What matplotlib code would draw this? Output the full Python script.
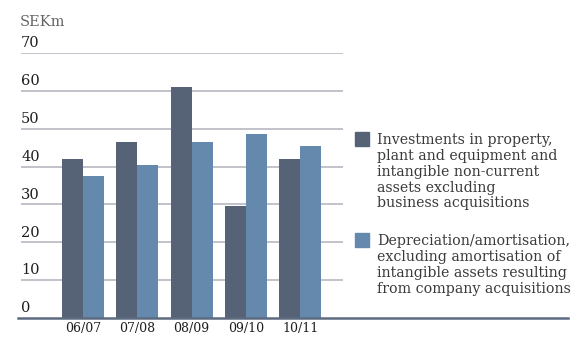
import numpy as np
import matplotlib.pyplot as plt
from matplotlib.patches import Rectangle

plt.rcParams['font.family'] = ['DejaVu Serif']

# data
years = ['06/07', '07/08', '08/09', '09/10', '10/11']
investments = [42, 46.5, 61, 29.5, 42]
depreciation = [37.5, 40.5, 46.5, 48.5, 45.5]
yticks = [0, 10, 20, 30, 40, 50, 60, 70]
labels = ['Investments in property,\nplant and equipment and\nintangible non-current\nassets excluding\nbusiness acquisitions',
          'Depreciation/amortisation,\nexcluding amortisation of\nintangible assets resulting\nfrom company acquisitions']

c_dark = '#566276'
c_light = '#6489ad'

W, H = 578, 338
fig = plt.figure(figsize=(W / 100, H / 100), dpi=100)
ax = fig.add_axes([21 / W, (H - 318) / H, 322 / W, (318 - 53) / H])

x = np.arange(len(years))
w = 0.387
ax.bar(x - w / 2, investments, w, color=c_dark, zorder=2)
ax.bar(x + w / 2, depreciation, w, color=c_light, zorder=2)

ax.set_xlim(-1.143, 4.79)
ax.set_ylim(0, 70)

# gridlines with labels sitting on top of them
for v in yticks[1:]:
    ax.axhline(v, color='#c2c2ca', lw=1.4, zorder=1)
for v in yticks:
    ax.text(0.0, v + 1.5, str(v), transform=ax.get_yaxis_transform(),
            fontsize=10.5, color='#1e1e1e', ha='left', va='baseline')

# baseline running out under the legend
ax.axhline(0, xmin=-0.01, xmax=(568 - 21) / 322, color='#5d6b80', lw=1.8,
           clip_on=False, zorder=3)

ax.set_xticks(x)
ax.set_xticklabels(years, fontsize=9, color='#1e1e1e')
ax.tick_params(axis='x', length=0, pad=3)
ax.set_yticks([])
for s in ax.spines.values():
    s.set_visible(False)

fig.text(20 / W, 1 - 26 / H, 'SEKm', fontsize=10.5, color='#666666',
         ha='left', va='baseline')

# legend
for i, (lab, col) in enumerate(zip(labels, [c_dark, c_light])):
    top = [132, 233][i]
    fig.add_artist(Rectangle((355 / W, 1 - (top + 14) / H), 14 / W, 14 / H,
                             transform=fig.transFigure, color=col))
    fig.text(377 / W, 1 - (top + 1) / H, lab, fontsize=10.2, color='#3a3a3a',
             ha='left', va='top', linespacing=1.17)

fig.savefig('out.png', dpi=100)
